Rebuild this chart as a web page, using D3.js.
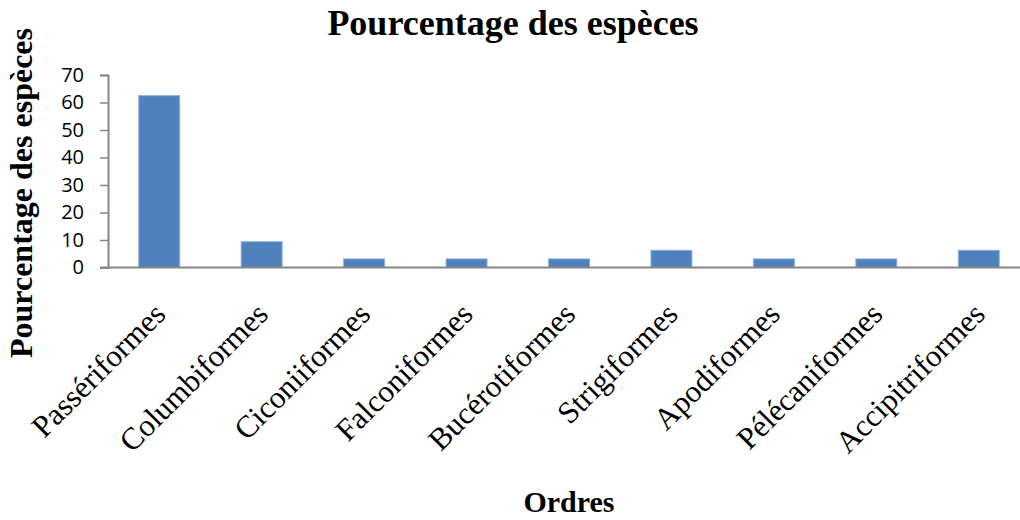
<!DOCTYPE html>
<html><head><meta charset="utf-8">
<script src="https://cdn.jsdelivr.net/npm/d3@7"></script>
<style>body{margin:0;background:#fff}</style>
</head><body><svg id="c" width="1020" height="520"></svg>
<script>
const categories = ["Passériformes","Columbiformes","Ciconiiformes","Falconiformes","Bucérotiformes","Strigiformes","Apodiformes","Pélécaniformes","Accipitriformes"];
const values = [62.5, 9.38, 3.13, 3.13, 3.13, 6.25, 3.13, 3.13, 6.25];
const yTicks = [0,10,20,30,40,50,60,70];
const title = "Pourcentage des espèces";
const yTitle = "Pourcentage des espèces";
const xTitle = "Ordres";

const svg = d3.select("#c");
const x = d3.scaleBand().domain(categories).range([108, 1030]).paddingInner(0.6).paddingOuter(0.3);
const y = d3.scaleLinear().domain([0,70]).range([267.5, 75]);

svg.selectAll("rect.bar").data(values).enter().append("rect")
  .attr("class","bar")
  .attr("x",(d,i)=>x(categories[i]))
  .attr("width",x.bandwidth())
  .attr("y",d=>y(d))
  .attr("height",d=>y(0)-y(d))
  .attr("fill","#4f81bd").attr("stroke","#8eb0dc").attr("stroke-width",1);

const yAxis = svg.append("g").attr("transform","translate(108,0)")
  .call(d3.axisLeft(y).tickValues(yTicks).tickSize(8).tickPadding(16));
yAxis.select(".domain").attr("stroke","#868686").attr("stroke-width",2);
yAxis.selectAll(".tick line").attr("stroke","#868686").attr("stroke-width",1.5);
yAxis.selectAll("text").attr("font-family","'Open Sans', sans-serif").attr("font-size","20px").attr("fill","#000");

svg.append("line").attr("x1",100).attr("x2",1020).attr("y1",y(0)).attr("y2",y(0))
  .attr("stroke","#868686").attr("stroke-width",2);

svg.append("g").selectAll("text").data(categories).enter().append("text")
  .attr("transform",d=>`translate(${x(d)+x.bandwidth()/2+8},${316}) rotate(-45)`)
  .attr("text-anchor","end")
  .attr("font-family","'Liberation Serif', 'Times New Roman', serif")
  .attr("font-size","31px").attr("fill","#000")
  .text(d=>d);

svg.append("text").attr("x",513).attr("y",35).attr("text-anchor","middle")
  .attr("font-family","'Liberation Serif', serif").attr("font-weight","bold").attr("font-size","36px").text(title);
svg.append("text").attr("transform","translate(32,193) rotate(-90)").attr("text-anchor","middle")
  .attr("font-family","'Liberation Serif', serif").attr("font-weight","bold").attr("font-size","32px").text(yTitle);
svg.append("text").attr("x",569).attr("y",512).attr("text-anchor","middle")
  .attr("font-family","'Liberation Serif', serif").attr("font-weight","bold").attr("font-size","30px").text(xTitle);
</script></body></html>
